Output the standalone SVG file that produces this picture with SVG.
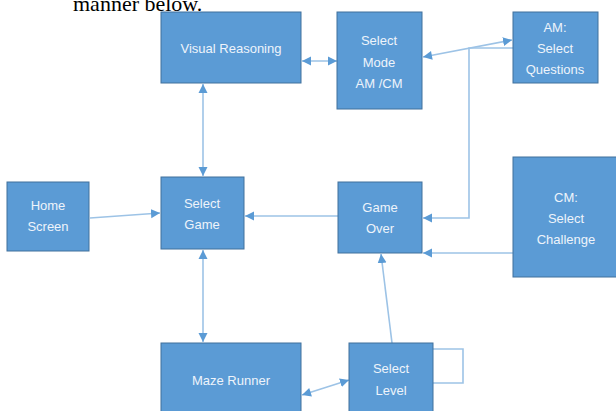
<svg xmlns="http://www.w3.org/2000/svg" width="616" height="411" viewBox="0 0 616 411">
<defs>
<style>
.box{fill:#5b9bd5;stroke:#41719c;stroke-width:1}
.lbl{font-family:"Liberation Sans",Arial,sans-serif;font-size:13px;fill:#eef4fb;text-anchor:middle}
.ln{fill:none;stroke:#9dc3e6;stroke-width:1.6}
.hd{fill:#5b9bd5}
</style>
<marker id="ae" markerUnits="userSpaceOnUse" markerWidth="10" markerHeight="10" refX="9" refY="5" orient="auto"><path class="hd" d="M0,0.5 L9,5 L0,9.5 Z"/></marker>
<marker id="as" markerUnits="userSpaceOnUse" markerWidth="10" markerHeight="10" refX="0" refY="5" orient="auto"><path class="hd" d="M9,0.5 L0,5 L9,9.5 Z"/></marker>
</defs>
<rect width="616" height="411" fill="#ffffff"/>
<text x="73" y="11" font-family="Liberation Serif,'Times New Roman',serif" font-size="22" fill="#000">manner below.</text>
<g id="connectors">
<line class="ln" x1="203" y1="84" x2="203" y2="176" marker-start="url(#as)" marker-end="url(#ae)"/>
<line class="ln" x1="302" y1="61" x2="337" y2="61" marker-start="url(#as)" marker-end="url(#ae)"/>
<line class="ln" x1="423" y1="57" x2="512" y2="40" marker-start="url(#as)" marker-end="url(#ae)"/>
<polyline class="ln" points="513,48 469,48 469,218 423,218" marker-end="url(#ae)"/>
<line class="ln" x1="90" y1="218" x2="160" y2="213" marker-end="url(#ae)"/>
<line class="ln" x1="338" y1="216" x2="245" y2="216" marker-end="url(#ae)"/>
<line class="ln" x1="513" y1="253" x2="423" y2="253" marker-end="url(#ae)"/>
<line class="ln" x1="392" y1="343" x2="381" y2="254" marker-end="url(#ae)"/>
<line class="ln" x1="203" y1="250" x2="203" y2="342" marker-start="url(#as)" marker-end="url(#ae)"/>
<line class="ln" x1="302" y1="395" x2="349" y2="380" marker-start="url(#as)" marker-end="url(#ae)"/>
<polyline class="ln" points="433,349 463,349 463,383 433,383"/>
</g>
<g id="visual-reasoning"><rect class="box" x="161" y="12" width="140" height="71"/><text class="lbl" x="231" y="53">Visual Reasoning</text></g>
<g id="select-mode"><rect class="box" x="337" y="12" width="85" height="97"/><text class="lbl" x="379" y="45">Select</text><text class="lbl" x="379" y="67">Mode</text><text class="lbl" x="379" y="88">AM /CM</text></g>
<g id="am-select-questions"><rect class="box" x="513" y="12" width="85" height="71"/><text class="lbl" x="555" y="32">AM:</text><text class="lbl" x="555" y="53">Select</text><text class="lbl" x="555" y="74">Questions</text></g>
<g id="home-screen"><rect class="box" x="7" y="182" width="82" height="69"/><text class="lbl" x="48" y="210">Home</text><text class="lbl" x="48" y="231">Screen</text></g>
<g id="select-game"><rect class="box" x="161" y="177" width="83" height="72"/><text class="lbl" x="202" y="208">Select</text><text class="lbl" x="202" y="229">Game</text></g>
<g id="game-over"><rect class="box" x="338" y="182" width="84" height="71"/><text class="lbl" x="380" y="212">Game</text><text class="lbl" x="380" y="233">Over</text></g>
<g id="cm-select-challenge"><rect class="box" x="513" y="157" width="106" height="120"/><text class="lbl" x="566" y="202">CM:</text><text class="lbl" x="566" y="223">Select</text><text class="lbl" x="566" y="244">Challenge</text></g>
<g id="maze-runner"><rect class="box" x="161" y="343" width="140" height="72"/><text class="lbl" x="231" y="385">Maze Runner</text></g>
<g id="select-level"><rect class="box" x="349" y="343" width="84" height="72"/><text class="lbl" x="391" y="373">Select</text><text class="lbl" x="391" y="395">Level</text></g>
</svg>
